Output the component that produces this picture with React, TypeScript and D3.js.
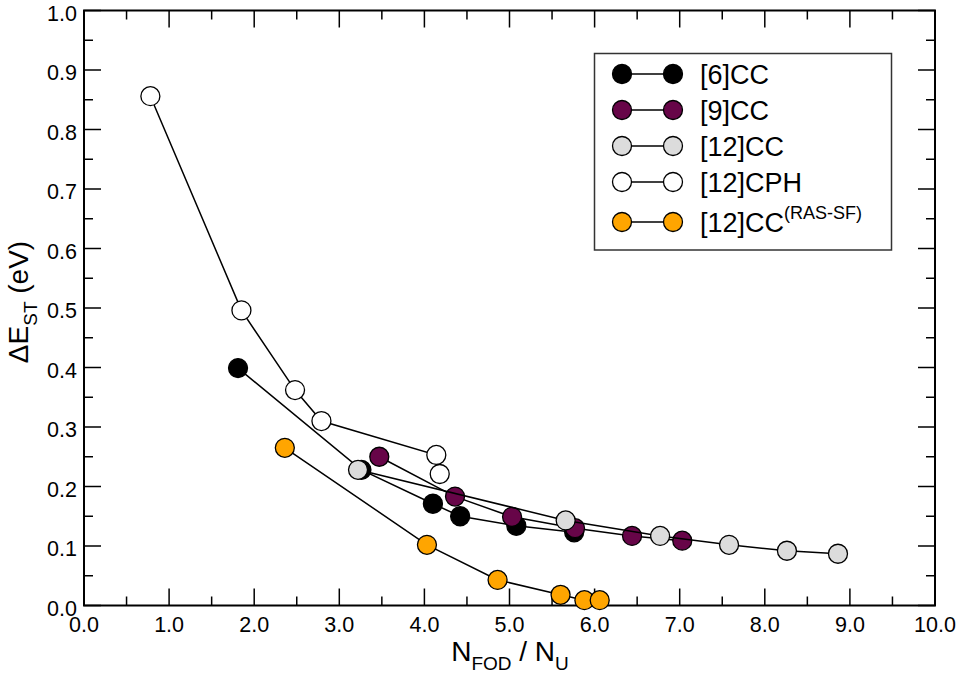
import React, { useEffect, useRef } from 'react';
import * as d3 from 'd3';

// Series values (x = N_FOD / N_U, y = ΔE_ST in eV)
const cc6X = [1.81, 3.26, 4.10, 4.42, 5.08, 5.76];
const cc6Y = [0.399, 0.228, 0.171, 0.150, 0.134, 0.123];

const cc9X = [3.47, 4.36, 5.03, 5.77, 6.44, 7.03];
const cc9Y = [0.250, 0.183, 0.149, 0.130, 0.117, 0.109];

const cc12X = [3.22, 5.66, 6.77, 7.58, 8.26, 8.86];
const cc12Y = [0.228, 0.143, 0.117, 0.102, 0.092, 0.087];

const cph12X = [0.78, 1.85, 2.48, 2.79, 4.14, 4.18];
const cph12Y = [0.856, 0.496, 0.362, 0.310, 0.253, 0.221];

const rasX = [2.36, 4.03, 4.86, 5.60, 5.88, 6.06];
const rasY = [0.265, 0.102, 0.043, 0.018, 0.009, 0.009];

const seriesNames = ['[6]CC', '[9]CC', '[12]CC', '[12]CPH', '[12]CC'];
const seriesColors = ['#000000', '#670548', '#dcdcdc', '#ffffff', '#ffa500'];

const xTicks = [0, 1, 2, 3, 4, 5, 6, 7, 8, 9, 10];
const yTicks = [0, 0.1, 0.2, 0.3, 0.4, 0.5, 0.6, 0.7, 0.8, 0.9, 1.0];

const FONT = '"Liberation Sans", Arial, Helvetica, sans-serif';

const App: React.FC = () => {
  const svgRef = useRef<SVGSVGElement>(null);

  useEffect(() => {
    if (!svgRef.current) return;
    const root = d3.select(svgRef.current);
    root.selectAll('*').remove();

    const left = 84, right = 935, top = 10.5, bottom = 605.5;
    const x = d3.scaleLinear().domain([0, 10]).range([left, right]);
    const y = d3.scaleLinear().domain([0, 1]).range([bottom, top]);

    const series = [
      { xs: cc6X, ys: cc6Y },
      { xs: cc9X, ys: cc9Y },
      { xs: cc12X, ys: cc12Y },
      { xs: cph12X, ys: cph12Y },
      { xs: rasX, ys: rasY },
    ].map((s, i) => ({
      name: seriesNames[i],
      color: seriesColors[i],
      pts: s.xs.map((v, j) => [v, s.ys[j]] as [number, number]),
    }));

    const g = root.append('g');

    // ticks (inward, all four sides)
    const majorLen = 17, minorLen = 9;
    const ticksG = g.append('g').attr('stroke', '#000').attr('stroke-width', 1.5);
    const xMinor = d3.range(0.5, 10, 1);
    const yMinor = d3.range(0.05, 1, 0.1);
    xTicks.forEach(t => {
      ticksG.append('line').attr('x1', x(t)).attr('x2', x(t)).attr('y1', bottom).attr('y2', bottom - majorLen);
      ticksG.append('line').attr('x1', x(t)).attr('x2', x(t)).attr('y1', top).attr('y2', top + majorLen);
    });
    xMinor.forEach(t => {
      ticksG.append('line').attr('x1', x(t)).attr('x2', x(t)).attr('y1', bottom).attr('y2', bottom - minorLen);
      ticksG.append('line').attr('x1', x(t)).attr('x2', x(t)).attr('y1', top).attr('y2', top + minorLen);
    });
    yTicks.forEach(t => {
      ticksG.append('line').attr('y1', y(t)).attr('y2', y(t)).attr('x1', left).attr('x2', left + majorLen);
      ticksG.append('line').attr('y1', y(t)).attr('y2', y(t)).attr('x1', right).attr('x2', right - majorLen);
    });
    yMinor.forEach(t => {
      ticksG.append('line').attr('y1', y(t)).attr('y2', y(t)).attr('x1', left).attr('x2', left + minorLen);
      ticksG.append('line').attr('y1', y(t)).attr('y2', y(t)).attr('x1', right).attr('x2', right - minorLen);
    });

    // frame
    g.append('rect')
      .attr('x', left).attr('y', top)
      .attr('width', right - left).attr('height', bottom - top)
      .attr('fill', 'none').attr('stroke', '#000').attr('stroke-width', 2);

    // tick labels
    g.append('g').selectAll('text').data(xTicks).enter().append('text')
      .attr('x', d => x(d)).attr('y', bottom + 26)
      .attr('text-anchor', 'middle')
      .style('font-family', FONT).style('font-size', '21.5px')
      .text(d => d.toFixed(1));
    g.append('g').selectAll('text').data(yTicks).enter().append('text')
      .attr('x', left - 7).attr('y', d => y(d) + 10)
      .attr('text-anchor', 'end')
      .style('font-family', FONT).style('font-size', '21.5px')
      .text(d => d.toFixed(1));

    // axis titles
    const xt = g.append('text')
      .attr('x', 510).attr('y', 661)
      .attr('text-anchor', 'middle')
      .style('font-family', FONT).style('font-size', '28px');
    xt.append('tspan').text('N');
    xt.append('tspan').attr('dy', 9).style('font-size', '19px').text('FOD');
    xt.append('tspan').attr('dy', -9).text(' / N');
    xt.append('tspan').attr('dy', 9).style('font-size', '19px').text('U');

    const yt = g.append('text')
      .attr('transform', 'translate(28,302) rotate(-90)')
      .attr('text-anchor', 'middle')
      .style('font-family', FONT).style('font-size', '28px');
    yt.append('tspan').text('ΔE');
    yt.append('tspan').attr('dy', 9).style('font-size', '19px').text('ST');
    yt.append('tspan').attr('dy', -9).text(' (eV)');

    // series lines and markers
    const line = d3.line<[number, number]>().x(d => x(d[0])).y(d => y(d[1]));
    const r = 9.5;
    series.forEach(s => {
      g.append('path')
        .attr('d', line(s.pts) || '')
        .attr('fill', 'none').attr('stroke', '#000').attr('stroke-width', 1.5);
      g.append('g').selectAll('circle').data(s.pts).enter().append('circle')
        .attr('cx', d => x(d[0])).attr('cy', d => y(d[1])).attr('r', r)
        .attr('fill', s.color).attr('stroke', '#000').attr('stroke-width', 1.3);
    });

    // legend
    const leg = g.append('g');
    leg.append('rect')
      .attr('x', 594.5).attr('y', 53.5).attr('width', 297).attr('height', 196.5)
      .attr('fill', '#fff').attr('stroke', '#333').attr('stroke-width', 1.5);
    const rowsY = [74, 110, 146, 182, 222];
    series.forEach((s, i) => {
      const ry = rowsY[i];
      leg.append('line').attr('x1', 622).attr('x2', 673).attr('y1', ry).attr('y2', ry)
        .attr('stroke', '#000').attr('stroke-width', 1.5);
      [622, 673].forEach(cx => {
        leg.append('circle').attr('cx', cx).attr('cy', ry).attr('r', r)
          .attr('fill', s.color).attr('stroke', '#000').attr('stroke-width', 1.3);
      });
      const t = leg.append('text')
        .attr('x', 700).attr('y', ry + 10)
        .style('font-family', FONT).style('font-size', '27px');
      t.append('tspan').text(s.name);
      if (i === 4) {
        t.append('tspan').attr('dy', -13).style('font-size', '18px').text('(RAS-SF)');
      }
    });
  }, []);

  return (
    <svg
      ref={svgRef}
      width={960}
      height={675}
      style={{ position: 'absolute', left: 0, top: 0, background: '#fff' }}
    />
  );
};

export default App;
